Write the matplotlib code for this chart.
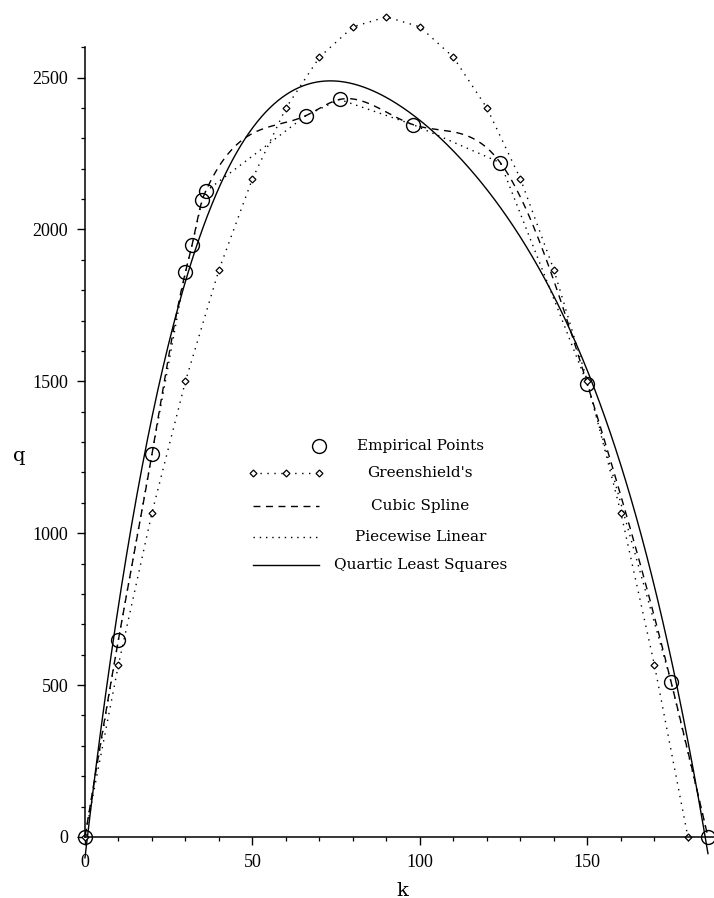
import numpy as np
import matplotlib
matplotlib.use("Agg")
import matplotlib.pyplot as plt
from matplotlib.ticker import MultipleLocator, FixedLocator

# empirical (k, q) points
emp_k = np.array([0, 10, 20, 30, 32, 35, 36, 66, 76, 98, 124, 150, 175, 186])
emp_q = np.array([0, 650, 1260, 1860, 1950, 2097, 2125, 2375, 2428, 2345, 2220, 1490, 510, 0])

# Greenshield's model points (diamonds)
gs_k = np.arange(0, 181, 10)
gs_q = np.array([0, 567, 1067, 1500, 1867, 2167, 2400, 2567, 2667, 2700,
                 2667, 2567, 2400, 2167, 1867, 1500, 1067, 567, 0])

legend_labels = ["Empirical Points", "Greenshield's", "Cubic Spline",
                 "Piecewise Linear", "Quartic Least Squares"]


def natural_spline(x, y, xs):
    n = len(x)
    h = np.diff(x).astype(float)
    A = np.zeros((n, n))
    r = np.zeros(n)
    A[0, 0] = A[-1, -1] = 1
    for i in range(1, n - 1):
        A[i, i - 1] = h[i - 1]
        A[i, i] = 2 * (h[i - 1] + h[i])
        A[i, i + 1] = h[i]
        r[i] = 3 * ((y[i + 1] - y[i]) / h[i] - (y[i] - y[i - 1]) / h[i - 1])
    c = np.linalg.solve(A, r)
    b = (y[1:] - y[:-1]) / h - h * (2 * c[:-1] + c[1:]) / 3
    d = (c[1:] - c[:-1]) / (3 * h)
    idx = np.clip(np.searchsorted(x, xs) - 1, 0, n - 2)
    dx = xs - x[idx]
    return y[idx] + b[idx] * dx + c[idx] * dx ** 2 + d[idx] * dx ** 3


kk = np.linspace(emp_k[0], emp_k[-1], 600)
spline_q = natural_spline(emp_k, emp_q.astype(float), kk)
quartic_q = np.polyval(np.polyfit(emp_k, emp_q, 4), kk)

fig = plt.figure(figsize=(7.14, 8.98), dpi=100)
ax = fig.add_axes([0.119, 0.068, 0.881, 0.92])

lw = 1.0
ax.plot(kk, quartic_q, color="black", lw=lw, clip_on=False)
ax.plot(kk, spline_q, color="black", lw=lw, ls=(0, (5, 4)), clip_on=False)
ax.plot(emp_k, emp_q, color="black", lw=lw, ls=(0, (1, 3.5)), clip_on=False)
ax.plot(gs_k, gs_q, color="black", lw=lw, ls=(0, (1, 4)), marker="D", ms=3.5,
        mfc="white", mec="black", mew=0.9, clip_on=False)
ax.plot(emp_k, emp_q, ls="none", marker="o", ms=10, mfc="none", mec="black",
        mew=1.0, clip_on=False)

ax.set_xlim(0, 187.8)
ax.set_ylim(0, 2720)

for s in ["top", "right"]:
    ax.spines[s].set_visible(False)
ax.spines["left"].set_bounds(0, 2600)
ax.spines["left"].set_linewidth(1.1)
ax.spines["bottom"].set_linewidth(1.1)

ax.xaxis.set_major_locator(MultipleLocator(50))
ax.xaxis.set_minor_locator(MultipleLocator(10))
ax.set_yticks([0, 500, 1000, 1500, 2000, 2500])
ax.yaxis.set_minor_locator(FixedLocator(np.arange(0, 2601, 100)))
ax.tick_params(which="major", direction="out", length=6, width=1, pad=6,
               labelsize=13)
ax.tick_params(which="minor", direction="out", length=3, width=0.9)
for t in ax.get_xticklabels() + ax.get_yticklabels():
    t.set_fontfamily("Liberation Serif")

ax.set_xlabel("k", fontsize=14, family="DejaVu Serif")
ax.xaxis.set_label_coords(0.505, -0.054)
ax.set_ylabel("q", fontsize=14, family="DejaVu Serif", rotation=0)
ax.yaxis.set_label_coords(-0.105, 0.45)

# legend drawn row by row with centered labels
rows_y = [0.473, 0.440, 0.401, 0.363, 0.329]
x0, x1, xt = 0.267, 0.372, 0.533
tr = ax.transAxes
ax.plot([x1], [rows_y[0]], transform=tr, ls="none", marker="o", ms=10,
        mfc="none", mec="black", mew=1.0)
ax.plot([x0, (x0 + x1) / 2, x1], [rows_y[1]] * 3, transform=tr, color="black",
        lw=lw, ls=(0, (1, 4)), marker="D", ms=3.5, mfc="white", mec="black",
        mew=0.9)
ax.plot([x0, x1], [rows_y[2]] * 2, transform=tr, color="black", lw=lw,
        ls=(0, (5, 4)))
ax.plot([x0, x1], [rows_y[3]] * 2, transform=tr, color="black", lw=lw,
        ls=(0, (1, 3.5)))
ax.plot([x0, x1], [rows_y[4]] * 2, transform=tr, color="black", lw=lw)
for lab, yy in zip(legend_labels, rows_y):
    ax.text(xt, yy, lab, transform=tr, ha="center", va="center",
            fontsize=11, family="DejaVu Serif")

fig.savefig("out.png", dpi=100)
